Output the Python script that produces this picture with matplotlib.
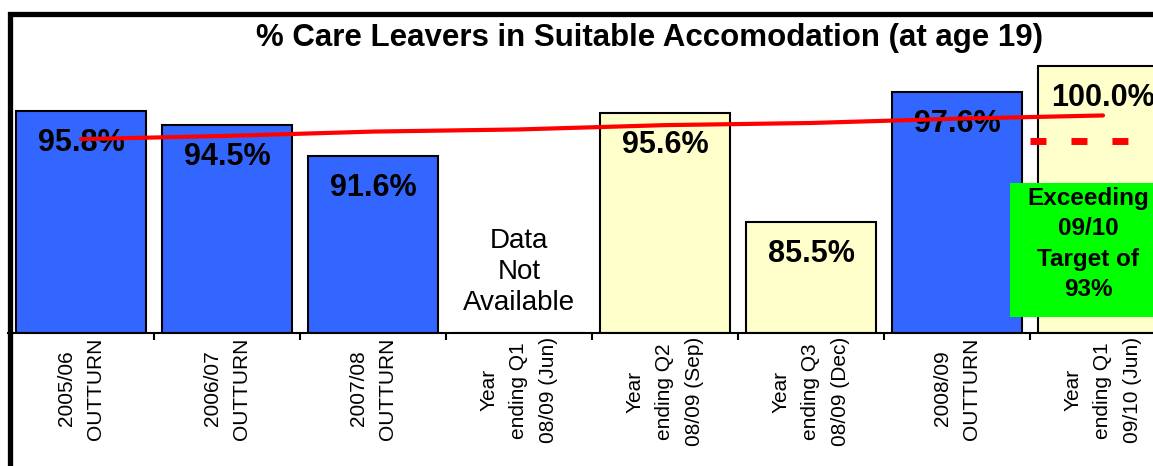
import numpy as np
import matplotlib.pyplot as plt
from matplotlib.patches import Rectangle

plt.rcParams['font.family'] = ['Liberation Sans', 'DejaVu Sans']

categories = ['2005/06\nOUTTURN', '2006/07\nOUTTURN', '2007/08\nOUTTURN',
              'Year\nending Q1\n08/09 (Jun)', 'Year\nending Q2\n08/09 (Sep)',
              'Year\nending Q3\n08/09 (Dec)', '2008/09\nOUTTURN',
              'Year\nending Q1\n09/10 (Jun)']
values = [95.8, 94.5, 91.6, np.nan, 95.6, 85.5, 97.6, 100.0]
kinds = ['outturn', 'outturn', 'outturn', 'quarter', 'quarter', 'quarter', 'outturn', 'quarter']
trend = [93.2, 93.5, 93.9, 94.1, 94.5, 94.7, 95.1, 95.4]
target = 93.0

colours = {'outturn': '#3366FF', 'quarter': '#FFFFCC'}

fig = plt.figure(figsize=(11.53, 4.66), dpi=100)
ax = fig.add_axes([8 / 1153, 133 / 466, 8 * 146 / 1153, 317 / 466])

x = np.arange(len(categories))
bar_vals = [0 if np.isnan(v) else v for v in values]
ax.bar(x, np.array(bar_vals) - 75.18, bottom=75.18, width=0.89,
       color=[colours[k] for k in kinds], edgecolor='black', linewidth=1.5, zorder=2)

for xi, v in zip(x, values):
    if np.isnan(v):
        ax.text(xi, 80.85, 'Data\nNot\nAvailable', ha='center', va='center',
                fontsize=20, linespacing=1.25, zorder=4)
    else:
        ax.annotate('%.1f%%' % v, (xi, v), xytext=(0, -23), textcoords='offset points',
                    ha='center', va='center', fontsize=22, fontweight='bold', zorder=4)

ax.plot(x, trend, color='#FF0000', lw=3, solid_capstyle='round', zorder=5)
ax.plot([6.5, 7.6], [target, target], color='#FF0000', lw=5, dashes=(2.3, 3.6), zorder=5)

ax.add_patch(Rectangle((6.363, 76.67), 1.3, 12.45, facecolor='#00FF00', edgecolor='none', zorder=3))
ax.text(6.897, 83.45, 'Exceeding\n09/10\nTarget of\n93%', ha='center', va='center',
        fontsize=17.5, fontweight='bold', linespacing=1.4, zorder=4)

ax.set_xlim(-0.5, 7.5)
ax.set_ylim(75.18, 75.18 + 317 / 10.759)
for s in ['left', 'right', 'top']:
    ax.spines[s].set_visible(False)
ax.spines['bottom'].set_linewidth(1.5)
ax.set_yticks([])
ax.set_xticks(x)
ax.set_xticklabels(categories, rotation=90, ha='center', va='top', multialignment='center',
                   fontsize=15, linespacing=1.72)
ax.set_xticks(np.arange(0.5, 7.5, 1), minor=True)
ax.tick_params(axis='x', which='major', length=0, pad=3)
ax.tick_params(axis='x', which='minor', length=5, width=1.5, direction='out')

fig.text(649 / 1153, 1 - 38 / 466, '% Care Leavers in Suitable Accomodation (at age 19)',
         ha='center', va='center', fontsize=22.5, fontweight='bold')

frame = Rectangle((10 / 1153, -0.1), 1.2, 1 - 13.5 / 466 + 0.1, transform=fig.transFigure,
                  facecolor='none', edgecolor='black', linewidth=3.8, zorder=10)
fig.patches.append(frame)

fig.savefig('out.png', dpi=100)
